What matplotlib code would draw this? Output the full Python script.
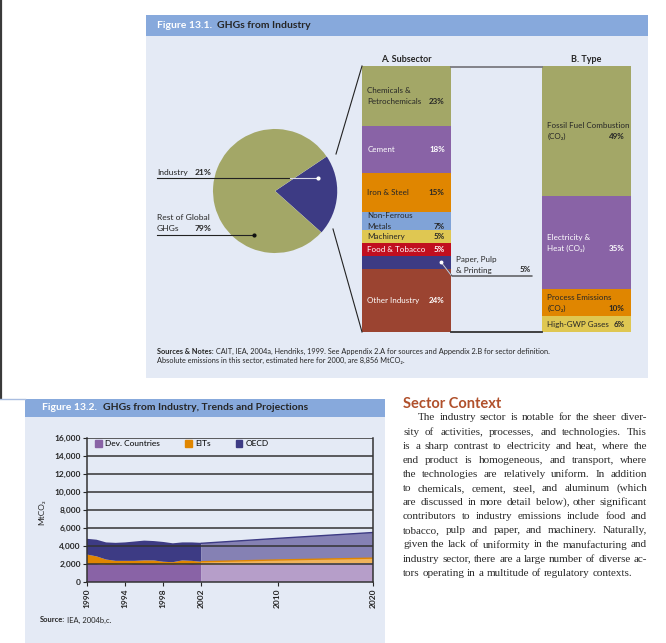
import matplotlib
matplotlib.use('Agg')
import matplotlib.pyplot as plt
from matplotlib.patches import Rectangle, Patch
import numpy as np

plt.rcParams['font.family'] = ['Lato', 'DejaVu Sans']

# ---- data ----
pie_labels = ["Industry", "Rest of Global GHGs"]
pie_shares = [21, 79]

subsector_names = ["Chemicals &\nPetrochemicals", "Cement", "Iron & Steel", "Non-Ferrous\nMetals",
                   "Machinery", "Food & Tobacco", "Paper, Pulp\n& Printing", "Other Industry"]
subsector_shares = [23, 18, 15, 7, 5, 5, 5, 24]

type_names = ["Fossil Fuel Combustion\n(CO₂)", "Electricity &\nHeat (CO₂)",
              "Process Emissions\n(CO₂)", "High-GWP Gases"]
type_shares = [49, 35, 10, 6]

years_hist = [1990, 1991, 1992, 1993, 1994, 1995, 1996, 1997, 1998, 1999, 2000, 2001, 2002]
dev_hist = [2000, 2000, 1900, 1900, 1950, 2000, 2000, 2000, 1950, 1900, 1950, 2000, 1950]
eit_hist = [1050, 850, 600, 450, 400, 350, 400, 400, 300, 300, 450, 350, 300]
oecd_hist = [1750, 1850, 1900, 2000, 2050, 2150, 2200, 2150, 2200, 2100, 2000, 2050, 2100]

years_proj = [2002, 2010, 2020]
dev_proj = [1900, 2000, 2100]
eit_proj = [350, 450, 550]
oecd_proj = [2050, 2400, 2850]

series_names = ["Dev. Countries", "EITs", "OECD"]
year_ticks = [1990, 1994, 1998, 2002, 2010, 2020]
y_ticks = list(range(0, 16001, 2000))

body_lines = [
    "The industry sector is notable for the sheer diver-",
    "sity of activities, processes, and technologies. This",
    "is a sharp contrast to electricity and heat, where the",
    "end product is homogeneous, and transport, where",
    "the technologies are relatively uniform. In addition",
    "to chemicals, cement, steel, and aluminum (which",
    "are discussed in more detail below), other significant",
    "contributors to industry emissions include food and",
    "tobacco, pulp and paper, and machinery. Naturally,",
    "given the lack of uniformity in the manufacturing and",
    "industry sector, there are a large number of diverse ac-",
    "tors operating in a multitude of regulatory contexts.",
]

# ---- colours ----
OLIVE = '#a3a767'
PURPLE = '#8963a6'
ORANGE = '#e08600'
LBLUE = '#80a3d7'
YELLOW = '#dfc752'
RED = '#c10f1f'
NAVY = '#3d3b84'
BROWN = '#9b4431'
BOX = '#e4eaf5'
HEAD = '#87a9dc'
DARK = '#262626'

sub_colors = [OLIVE, PURPLE, ORANGE, LBLUE, YELLOW, RED, NAVY, BROWN]
sub_text = [DARK, 'white', DARK, DARK, DARK, 'white', None, 'white']
type_colors = [OLIVE, PURPLE, ORANGE, YELLOW]
type_text = [DARK, 'white', DARK, DARK]

W, H = 666, 643
fig = plt.figure(figsize=(W / 100, H / 100), dpi=100)


def px_axes(x0, y0, x1, y1):
    return fig.add_axes([x0 / W, 1 - y1 / H, (x1 - x0) / W, (y1 - y0) / H])


# background layer in pixel coordinates
bg = px_axes(0, 0, W, H)
bg.set_xlim(0, W)
bg.set_ylim(H, 0)
bg.axis('off')
bg.set_zorder(0)
bg.plot([0.8, 0.8], [0, 398], color='#3a3a3a', lw=1.6)
bg.plot([0, 25], [398.5, 398.5], color='#a9bde0', lw=1)
bg.add_patch(Rectangle((146, 15), 502, 363, color=BOX, lw=0))
bg.add_patch(Rectangle((146, 15), 502, 21, color=HEAD, lw=0))
bg.add_patch(Rectangle((25, 399), 360, 250, color=BOX, lw=0))
bg.add_patch(Rectangle((25, 399), 360, 18, color=HEAD, lw=0))

# ---- pie ----
axp = px_axes(195, 111, 355, 271)
axp.set_zorder(1)
half = pie_shares[0] / 100 * 180
axp.pie(pie_shares, colors=[NAVY, OLIVE], startangle=-4 - half, explode=[0.22, 0],
        radius=62, wedgeprops=dict(linewidth=0))
axp.set_xlim(-80, 80)
axp.set_ylim(-80, 80)
axp.set_aspect('equal')
axp.axis('off')

FS = 5.8


# ---- stacked bars ----
def stack_bar(box, shares, colors, names, txt_colors, skip=None):
    ax = px_axes(*box)
    ax.set_zorder(1)
    bottoms = np.concatenate([[0], np.cumsum(shares)[:-1]])
    ax.bar(0, shares, bottom=bottoms, width=1, color=colors, linewidth=0)
    ax.set_xlim(-0.5, 0.5)
    ax.set_ylim(sum(shares), 0)
    ax.axis('off')
    for i, (nm, v, b, c) in enumerate(zip(names, shares, bottoms, txt_colors)):
        if i == skip:
            continue
        mid = b + v / 2
        parts = nm.split('\n')
        offs = [5.5, -5.5] if len(parts) == 2 else [0]
        for part, dy in zip(parts, offs):
            ax.annotate(part, xy=(-0.44, mid), xytext=(0, dy), textcoords='offset pixels',
                        color=c, fontsize=FS, va='center', ha='left')
        ax.annotate(f"{v}%", xy=(0.43, mid), xytext=(0, offs[-1]), textcoords='offset pixels',
                    color=c, fontsize=FS, fontweight='bold', va='center', ha='right')
    return ax


axA = stack_bar((362, 66, 451, 332), subsector_shares, sub_colors, subsector_names, sub_text, skip=6)
axB = stack_bar((542, 66, 631, 332), type_shares, type_colors, type_names, type_text)

# ---- trends chart ----
ax2 = px_axes(87, 438, 373, 582)
ax2.set_zorder(1)
ax2.set_facecolor(BOX)
ax2.stackplot(years_hist, dev_hist, eit_hist, oecd_hist, colors=[PURPLE, ORANGE, NAVY], lw=0)
ax2.stackplot(years_proj, dev_proj, eit_proj, oecd_proj, colors=['#b69ec9', '#efb35c', '#8581b4'], lw=0)
ax2.plot(years_proj, np.array(dev_proj) + np.array(eit_proj), color=ORANGE, lw=1)
ax2.plot(years_proj, np.array(dev_proj) + np.array(eit_proj) + np.array(oecd_proj), color=NAVY, lw=1)
for v in y_ticks[1:]:
    ax2.axhline(v, color='#333333', lw=1.1, zorder=3)
ax2.set_xlim(1990, 2020)
ax2.set_ylim(0, 16000)
ax2.set_yticks(y_ticks)
ax2.set_yticklabels([f"{v:,}" for v in y_ticks])
ax2.set_xticks(year_ticks)
ax2.set_xticklabels([str(y) for y in year_ticks], rotation=90)
ax2.tick_params(labelsize=6, colors=DARK, length=3, width=0.8, pad=1.5)
for lb in ax2.get_yticklabels() + ax2.get_xticklabels():
    lb.set_fontweight('bold')
ax2.spines['top'].set_visible(False)
for s in ['left', 'right', 'bottom']:
    ax2.spines[s].set_color('#333333')
    ax2.spines[s].set_linewidth(1.1)
handles = [Patch(color=c) for c in [PURPLE, ORANGE, NAVY]]
ax2.legend(handles, series_names, loc='upper left', bbox_to_anchor=(0.028, 0.985), ncol=3,
           frameon=False, fontsize=6, handlelength=0.8, handleheight=0.8, handletextpad=0.4,
           columnspacing=3.0, borderpad=0, borderaxespad=0)

# ---- foreground text and connector lines ----
fg = px_axes(0, 0, W, H)
fg.set_xlim(0, W)
fg.set_ylim(H, 0)
fg.axis('off')
fg.set_zorder(5)
fg.patch.set_alpha(0)

# headers
h1 = fg.text(157, 25.5, "Figure 13.1.", color='white', fontsize=7.5, fontweight='bold', va='center')
fg.annotate("GHGs from Industry", xy=(1, 0.5), xycoords=h1, xytext=(5, 0), textcoords='offset pixels',
            color=DARK, fontsize=7.5, fontweight='bold', va='center')
h2 = fg.text(42, 408, "Figure 13.2.", color='white', fontsize=7.5, fontweight='bold', va='center')
fg.annotate("GHGs from Industry, Trends and Projections", xy=(1, 0.5), xycoords=h2, xytext=(6, 0),
            textcoords='offset pixels', color=DARK, fontsize=7.5, fontweight='bold', va='center')
fg.text(406, 60, "A. Subsector", color=DARK, fontsize=6.5, fontweight='bold', ha='center', va='center')
fg.text(586, 60, "B. Type", color=DARK, fontsize=6.5, fontweight='bold', ha='center', va='center')

# pie labels
fg.text(157, 172.5, "Industry", color=DARK, fontsize=FS + 0.3, va='center')
fg.text(195, 172.5, f"{pie_shares[0]}%", color=DARK, fontsize=FS + 0.3, fontweight='bold', va='center')
fg.plot([157, 290], [178, 178], color='#222222', lw=0.8)
fg.plot([290, 318], [178, 178], color='#d8d8e8', lw=0.8)
fg.plot([318], [178], 'o', color='white', ms=2)
fg.text(157, 217.5, "Rest of Global", color=DARK, fontsize=FS + 0.3, va='center')
fg.text(157, 228.5, "GHGs", color=DARK, fontsize=FS + 0.3, va='center')
fg.text(195, 228.5, f"{pie_shares[1]}%", color=DARK, fontsize=FS + 0.3, fontweight='bold', va='center')
fg.plot([157, 254], [235, 235], color='#222222', lw=0.8)
fg.plot([254], [235], 'o', color='#111111', ms=2)

# connectors pie -> subsector bar
fg.plot([336, 362], [154, 66], color='#222222', lw=0.8)
fg.plot([333, 362], [229, 332], color='#222222', lw=0.8)
# connectors subsector bar -> type bar
fg.plot([451, 542], [67, 67], color='#7a7a80', lw=1.3)
fg.plot([451, 542], [332, 332], color='#333333', lw=1.3)

# paper, pulp label
fg.plot([441, 452, 532], [262, 276, 276], color='#222222', lw=0.8)
fg.plot([441, 451], [262, 275], color='#c8c8dc', lw=0.8)
fg.plot([441], [262], 'o', color='white', ms=1.8)
paper_parts = subsector_names[6].split('\n')
fg.text(456, 259, paper_parts[0], color=DARK, fontsize=FS, va='center')
fg.text(456, 270, paper_parts[1], color=DARK, fontsize=FS, va='center')
fg.text(531, 270, f"{subsector_shares[6]}%", color=DARK, fontsize=FS, fontweight='bold',
        va='center', ha='right')

# sources
t1 = fg.text(157, 351, "Sources & Notes:", color=DARK, fontsize=5.3, fontweight='bold', va='center')
fg.annotate(" CAIT, IEA, 2004a, Hendriks, 1999. See Appendix 2.A for sources and Appendix 2.B for sector definition.",
            xy=(1, 0.5), xycoords=t1, va='center', fontsize=5.3, color=DARK)
fg.text(157, 360, "Absolute emissions in this sector, estimated here for 2000, are 8,856 MtCO₂.",
        color=DARK, fontsize=5.3, va='center')
t2 = fg.text(40, 620, "Source:", color=DARK, fontsize=5.5, fontweight='bold', va='center')
fg.annotate(" IEA, 2004b,c.", xy=(1, 0.5), xycoords=t2, va='center', fontsize=5.5, color=DARK)
fg.text(42, 512, "MtCO₂", color=DARK, fontsize=6, rotation=90, va='center', ha='center')

# right column text
fg.text(403, 404, "Sector Context", color='#b0502b', fontsize=10.5, fontweight='bold', va='center')
renderer = fig.canvas.get_renderer()
x_left, x_right = 403, 647
serif = ['Liberation Serif', 'DejaVu Serif']

# largest size at which every line fits the column
size = 9.5
while size > 6:
    probe = [fg.text(0, 0, ln, fontsize=size, family=serif) for ln in body_lines]
    wmax = max(p.get_window_extent(renderer).width + (15 if k == 0 else 0) for k, p in enumerate(probe))
    for p in probe:
        p.remove()
    if wmax <= x_right - x_left:
        break
    size -= 0.1

for i, line in enumerate(body_lines):
    y = 418 + i * 14.1
    x0 = 418 if i == 0 else x_left
    words = line.split(' ')
    ts = [fg.text(0, y, w, color='#2a2a2a', fontsize=size, family=serif, va='center') for w in words]
    widths = [t.get_window_extent(renderer).width for t in ts]
    if i < len(body_lines) - 1:
        gap = (x_right - x0 - sum(widths)) / (len(words) - 1)
    else:
        gap = size * 0.35
    x = x0
    for t, w in zip(ts, widths):
        t.set_x(x)
        x += w + gap

fig.savefig('out.png', dpi=100)
